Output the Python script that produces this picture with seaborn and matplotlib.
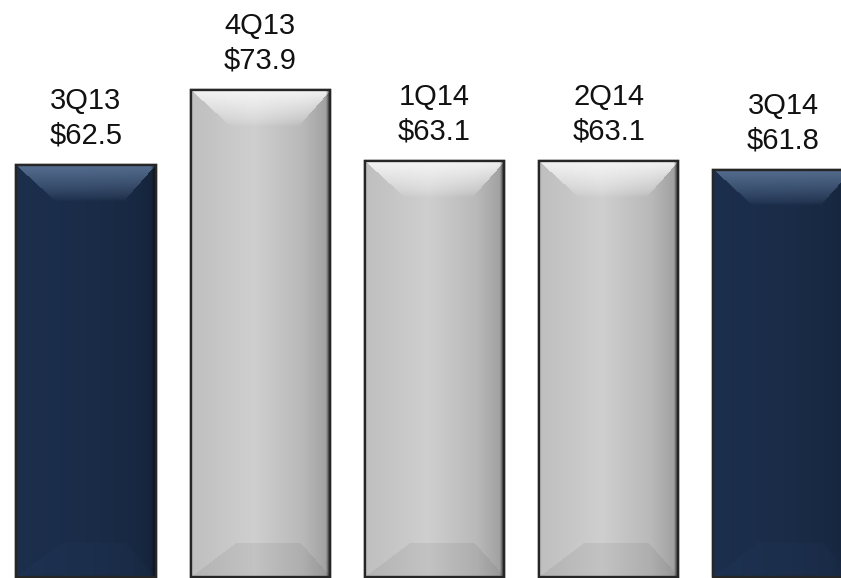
import numpy as np
import pandas as pd
import matplotlib
matplotlib.use("Agg")
import matplotlib.pyplot as plt
import seaborn as sns
from matplotlib.colors import to_rgb
from matplotlib.patches import Rectangle

# Quarterly values ($)
quarters = ["3Q13", "4Q13", "1Q14", "2Q14", "3Q14"]
revenue = [62.5, 73.9, 63.1, 63.1, 61.8]
bar_colors = ["#1a2c48", "#c9c9c9", "#c9c9c9", "#c9c9c9", "#1a2c48"]
highlight_colors = ["#5a7395", "#f8f8f8", "#f8f8f8", "#f8f8f8", "#5a7395"]

sns.set_theme(style="white")
plt.rcParams["font.family"] = ["Liberation Sans", "DejaVu Sans"]

fig = plt.figure(figsize=(8.41, 5.78), dpi=100)
ax = fig.add_axes([0, 0, 1, 1])
df = pd.DataFrame({"quarter": quarters, "revenue": revenue})
sns.barplot(data=df, x="quarter", y="revenue", hue="quarter", palette=bar_colors,
            width=0.8, legend=False, saturation=1, ax=ax,
            edgecolor="#262626", linewidth=1.7)
XLIM = (-0.4935, 4.333)
YLIM = (-0.15, 87.56)
ax.set_xlim(*XLIM)
ax.set_ylim(*YLIM)
ax.axis("off")
fig.canvas.draw()


def bevel_image(base, light, w, h, dark):
    """Pixel shading for one bevelled bar (top highlight, bottom band, side shading)."""
    x = np.arange(w)[None, :] + 0.5
    y = np.arange(h)[:, None] + 0.5
    u = x / w
    if dark:
        prof = np.interp(u, [0, 0.08, 0.5, 0.85, 1], [1.08, 1.05, 1.0, 0.92, 0.80])
    else:
        prof = np.interp(u, [0, 0.12, 0.45, 0.8, 1], [0.95, 0.97, 1.03, 0.92, 0.78])
    shade = np.broadcast_to(prof, (h, w))
    rgb = np.array(to_rgb(base))[None, None, :] * shade[..., None]

    bev = 36.0
    # top highlight trapezoid, fading out toward its lower edge
    top = (y < bev) & (x > y * 37 / 34) & (x < w - y * 30 / 34)
    k = 0.92 * np.clip(1 - y / bev, 0, 1) ** 0.75
    k = np.broadcast_to(k, (h, w))[..., None]
    lit = rgb * (1 - k) + np.array(to_rgb(light))[None, None, :] * k
    rgb = np.where(top[..., None], lit, rgb)

    # bottom band
    bb = 34.0
    b = h - y
    bot = (b < bb) & (x > b * 45 / bb) & (x < w - b * 30 / bb)
    fac = 1.06 if dark else 0.94
    rgb = np.where(bot[..., None], rgb * fac, rgb)

    # dark shadow along the right side
    edge = np.clip((x - (w - 5)) / 5, 0, 1)
    edge = np.broadcast_to(edge, (h, w))[..., None]
    rgb = rgb * (1 - edge) + np.array([0.07, 0.07, 0.07]) * edge
    return np.clip(rgb, 0, 1)


for i, (patch, light) in enumerate(zip(ax.patches, highlight_colors)):
    x0, y0 = patch.get_x(), patch.get_y()
    bw, bh = patch.get_width(), patch.get_height()
    (px0, py0), (px1, py1) = ax.transData.transform([(x0, y0), (x0 + bw, y0 + bh)])
    w_px, h_px = int(round(px1 - px0)), int(round(py1 - py0))
    dark = bar_colors[i] == "#1a2c48"
    img = bevel_image(bar_colors[i], light, w_px, h_px, dark)
    im = ax.imshow(img, extent=(x0, x0 + bw, y0, y0 + bh), origin="upper",
                   aspect="auto", interpolation="bilinear", zorder=patch.get_zorder() + 0.1)
    im.set_clip_path(patch)
    ax.add_patch(Rectangle((x0, y0), bw, bh, fill=False, edgecolor="#262626",
                           linewidth=1.7, zorder=patch.get_zorder() + 0.2))
    value = revenue[i]
    ax.annotate(f"{quarters[i]}\n\\${value:.1f}", xy=(x0 + bw / 2, value),
                xytext=(0, 11), textcoords="offset points", ha="center", va="bottom",
                fontsize=21, color="#111111", linespacing=1.3)

ax.set_xlim(*XLIM)
ax.set_ylim(*YLIM)
fig.savefig("out.png", dpi=100)
